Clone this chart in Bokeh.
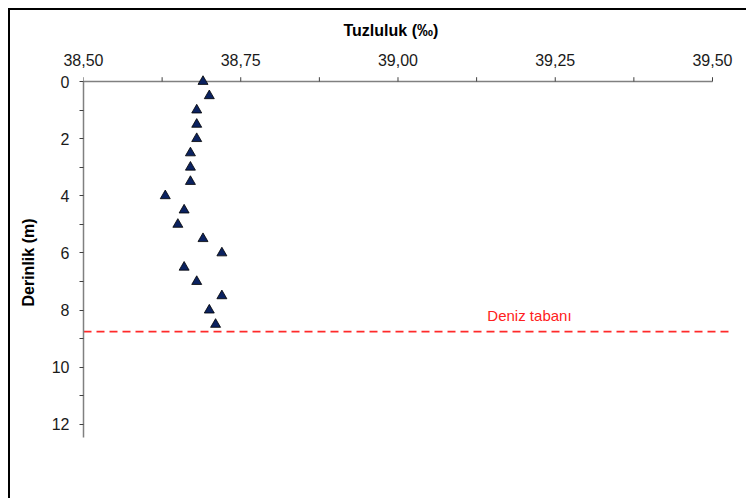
from bokeh.plotting import figure
from bokeh.models import Range1d, FixedTicker, Label, LinearAxis
from bokeh.embed import file_html
from bokeh.resources import INLINE

depth = [0, 0.5, 1, 1.5, 2, 2.5, 3, 3.5, 4, 4.5, 5, 5.5, 6, 6.5, 7, 7.5, 8, 8.5]
salinity = [38.69, 38.70, 38.68, 38.68, 38.68, 38.67, 38.67, 38.67, 38.63, 38.66,
            38.65, 38.69, 38.72, 38.66, 38.68, 38.72, 38.70, 38.71]
x_ticks = [38.50, 38.75, 39.00, 39.25, 39.50]
x_minor_ticks = [38.625, 38.875, 39.125, 39.375]
x_tick_labels = ["38,50", "38,75", "39,00", "39,25", "39,50"]
y_ticks = [0, 2, 4, 6, 8, 10, 12]
y_minor_ticks = [1, 3, 5, 7, 9, 11]
seabed_depth = 8.75
seabed_label = "Deniz tabanı"
x_title = "Tuzluluk (‰)"
y_title = "Derinlik (m)"

FONT = "Liberation Sans"

p = figure(width=738, height=490, output_backend="svg", toolbar_location=None,
           x_range=Range1d(38.5, 39.5318), y_range=Range1d(13.016, -0.35),
           x_axis_location=None, y_axis_location=None,
           title=x_title, title_location="above",
           min_border_left=73, min_border_top=61, min_border_right=16, min_border_bottom=47)
p.margin = (8, 0, 0, 8)
p.styles = {"border-left": "2px solid black", "border-top": "2px solid black"}
p.grid.visible = False
p.outline_line_color = None
p.background_fill_color = "white"
p.border_fill_color = "white"

p.title.align = "left"
p.title.offset = 260
p.title.standoff = 20
p.title.vertical_align = "top"
p.title.text_font = FONT
p.title.text_font_size = "16px"
p.title.text_font_style = "bold"
p.title.text_color = "black"

# top axis: labels only (its line is drawn at depth 0 below)
xa = LinearAxis(bounds=(38.5, 39.5))
xa.ticker = FixedTicker(ticks=x_ticks, minor_ticks=[])
xa.major_label_overrides = {t: l for t, l in zip(x_ticks, x_tick_labels)}
xa.axis_line_color = None
xa.major_tick_line_color = None
xa.minor_tick_line_color = None
xa.major_label_standoff = 0
p.add_layout(xa, "above")

ya = LinearAxis(bounds=(0, 12.45), axis_label=y_title)
ya.ticker = FixedTicker(ticks=y_ticks, minor_ticks=y_minor_ticks)
ya.axis_line_color = "#808080"
ya.axis_line_width = 1.5
ya.major_tick_line_color = "#404040"
ya.minor_tick_line_color = "#404040"
ya.major_tick_in = 0
ya.major_tick_out = 4
ya.minor_tick_in = 0
ya.minor_tick_out = 4
ya.major_label_standoff = 10
ya.axis_label_standoff = 12
ya.axis_label_text_font = FONT
ya.axis_label_text_font_size = "16px"
ya.axis_label_text_font_style = "bold"
ya.axis_label_text_color = "black"
p.add_layout(ya, "left")

for ax in (xa, ya):
    ax.major_label_text_font = FONT
    ax.major_label_text_font_size = "16px"
    ax.major_label_text_color = "#1a1a1a"

# x axis line at depth 0 with upward ticks
all_x_ticks = x_ticks + x_minor_ticks
p.segment(x0=[x_ticks[0]], y0=[0], x1=[x_ticks[-1]], y1=[0],
          line_color="#808080", line_width=1.5)
p.segment(x0=all_x_ticks, y0=[0] * len(all_x_ticks), x1=all_x_ticks,
          y1=[-0.15] * len(all_x_ticks), line_color="#404040", line_width=1)

p.scatter(salinity, depth, marker="triangle", size=10,
          fill_color="#0B2260", line_color="black", line_width=0.8)

p.segment(x0=[38.5], y0=[seabed_depth], x1=[39.529], y1=[seabed_depth],
          line_color="#FF2A2A", line_width=1.6, line_dash="8 5")

p.add_layout(Label(x=39.209, y=8.19, text=seabed_label, text_align="center",
                   text_baseline="middle", text_color="#FF2020", text_font_size="15px",
                   text_font=FONT))

open("out.html", "w").write(file_html(p, INLINE))
